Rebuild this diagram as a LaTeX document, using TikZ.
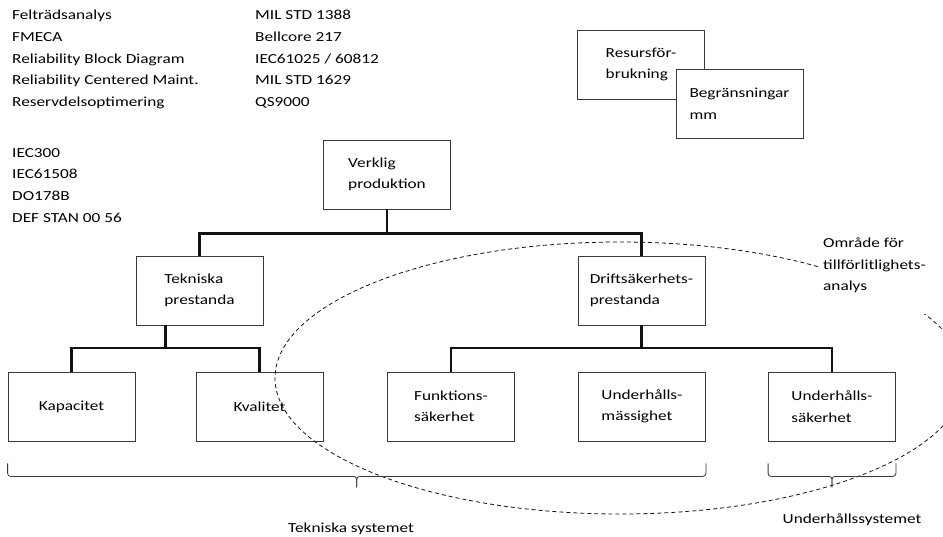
\documentclass[tikz,border=0pt]{standalone}
\usepackage{fontspec}
\setmainfont{Carlito}[FakeStretch=1.25]
\usepackage{tikz}
\usetikzlibrary{calc}
\definecolor{ink}{HTML}{111111}
\definecolor{rim}{HTML}{3A3A3A}
\newcommand{\wbrace}[2]{%
  \draw[brc] (#1) |- ($(#1)!.5!(#2)+(0,13)$) -- ++(0,11);
  \draw[brc] (#2) |- ($(#1)!.5!(#2)+(0,13)$) -- ++(0,11);}
\tikzset{box/.style={draw=rim,line width=.8pt,minimum width=127pt,minimum height=69pt,inner sep=0pt,align=left},conn/.style={ink,line width=2.2pt},brc/.style={rim,line width=.8pt,rounded corners=3pt},txt/.style={anchor=base west,inner sep=0pt},dsh/.style={ink,line width=.8pt,dash pattern=on 4pt off 3pt}}

\begin{document}
\begin{tikzpicture}[x=1pt,y=-1pt,font=\fontsize{13.8}{21.5}\selectfont]
\useasboundingbox (0,0) rectangle (943,536);
% lists of methods and standards
\foreach \t [count=\i] in {Felträdsanalys,FMECA,Reliability Block Diagram,Reliability Centered Maint.,Reservdelsoptimering}
  \node[txt] (meth\i) at (12,{19.5+21.8*(\i-1)}) {\t};
\foreach \t [count=\i] in {MIL STD 1388,Bellcore 217,IEC61025 / 60812,MIL STD 1629,QS9000}
  \node[txt] (std\i) at (255,{19.5+21.8*(\i-1)}) {\t};
\foreach \t [count=\i] in {IEC300,IEC61508,DO178B,DEF STAN 00 56}
  \node[txt] (iec\i) at (12,{157+21.8*(\i-1)}) {\t};
% boxes
\node[box] (verk) at (387,174.5) {Verklig\\produktion};
\node[box] (tek) at (199.5,290.5) {Tekniska\\prestanda};
\node[box] (drift) at (641.5,290.5) {Driftsäkerhets-\\prestanda};
\node[box] (kap) at (71.5,406.5) {Kapacitet};
\node[box] (kval) at (259.5,406.5) {Kvalitet};
\node[box] (funk) at (451,406.5) {Funktions-\\säkerhet};
\node[box] (uhm) at (642,406.5) {Underhålls-\\mässighet};
\node[box] (uhs) at (832,406.5) {Underhålls-\\säkerhet};
\node[box] (res) at (641,64.5) {Resursför-\\brukning};
\node[box,fill=white] (begr) at (739.5,104) {Begränsningar\\mm};
% tree lines
\draw[conn] (verk.south) -- ++(0,24) coordinate (j0);
\draw[conn] (tek.north) |- (j0) -| (drift.north);
\coordinate (j1) at ($(kap.north)!.5!(kval.north)+(0,-24)$);
\draw[conn] (tek.south -| j1) -- (j1);
\draw[conn] (kap.north) |- (j1) -| (kval.north);
\coordinate (j2) at ($(funk.north)!.5!(uhs.north)+(0,-24)$);
\draw[conn] (drift.south) -- (drift.south |- j2);
\draw[conn] (funk.north) |- (j2) -| (uhs.north);
% area for reliability analysis
\draw[dsh] (620,378) ellipse [x radius=345pt, y radius=136pt];
\node[anchor=north west,fill=white,inner sep=3pt] (omr) at (820,235)
  {\parbox[t]{102pt}{Område för\\\mbox{tillförlitlighets-}\\analys\vspace*{18pt}}};
% braces
\coordinate (b1) at ([yshift=-22pt]kap.south west);
\coordinate (b2) at ([yshift=-22pt]uhm.south east);
\coordinate (b3) at ([yshift=-22pt]uhs.south west);
\coordinate (b4) at ([yshift=-22pt]uhs.south east);
\wbrace{b1}{b2}
\wbrace{b3}{b4}
\node[txt,anchor=base] (teksys) at (351,532) {Tekniska systemet};
\node[txt,anchor=base] (uhsys) at (852,523) {Underhållssystemet};
\end{tikzpicture}
\end{document}
